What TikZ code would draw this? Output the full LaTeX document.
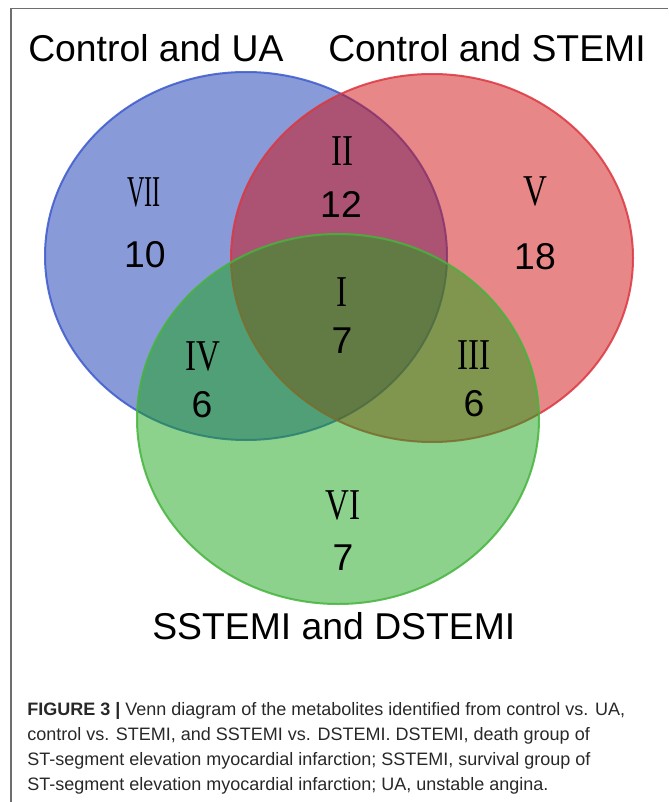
\documentclass[tikz,border=0pt]{standalone}
\usepackage{fontspec}
\setmainfont{Liberation Sans}
\newfontfamily\numeralfont{Liberation Serif}
\usetikzlibrary{positioning}

\definecolor{uablue}{RGB}{19,53,177}
\definecolor{uaedge}{RGB}{60,90,205}
\definecolor{stemired}{RGB}{209,15,15}
\definecolor{stemiedge}{RGB}{220,55,65}
\definecolor{dstemigreen}{RGB}{25,165,25}
\definecolor{dstemiedge}{RGB}{70,180,60}
\definecolor{framegray}{RGB}{110,110,110}
\definecolor{captiongray}{RGB}{40,40,40}

\newcommand{\rnum}[2][0.75]{\scalebox{#1}[1]{#2}}

\begin{document}
\begin{tikzpicture}[x=0.75pt,y=0.75pt,yscale=-1,xscale=1,
  set label/.style={font=\fontsize{28}{32}\selectfont, inner sep=0pt},
  count/.style={font=\fontsize{28}{32}\selectfont, inner sep=0pt},
  region/.style={font=\numeralfont\fontsize{33}{36}\selectfont, inner sep=0pt},
  venn/.style={line width=1.5pt, fill opacity=0.5, draw opacity=0.85}]
\useasboundingbox (0,0) rectangle (668,802);

%Frame lines
\draw [framegray, line width=1.1pt] (11,802) -- (11,8.5) -- (668,8.5);

%Shape: Ellipse (control and UA)
\draw [venn, draw=uaedge, fill=uablue] (246,256) ellipse (201 and 184);
%Shape: Ellipse (control and STEMI)
\draw [venn, draw=stemiedge, fill=stemired] (432,258) ellipse (201 and 184);
%Shape: Ellipse (SSTEMI and DSTEMI)
\draw [venn, draw=dstemiedge, fill=dstemigreen] (338,419) ellipse (201 and 185);

% Set labels
\node (ua) [set label, anchor=base west] at (28,62) {Control and UA};
\node (stemi) [set label, anchor=base west] at (328,62) {Control and STEMI};
\node (dstemi) [set label, anchor=base west] at (152,639) {SSTEMI and DSTEMI};

% Region labels
\node (r7) [region] at (144,192) {\rnum[0.55]{VII}};
\node (n7) [count] at (145,255) {10};
\node (r2) [region] at (342,151) {\rnum{II}};
\node (n2) [count] at (341,204) {12};
\node (r5) [region] at (535,191) {\rnum{V}};
\node (n5) [count] at (535,257) {18};
\node (r1) [region] at (342,292) {\rnum{I}};
\node (n1) [count] at (342,341) {7};
\node (r4) [region] at (203,356) {\rnum{IV}};
\node (n4) [count] at (202,405) {6};
\node (r3) [region] at (474,355) {\rnum{III}};
\node (n3) [count] at (474,404) {6};
\node (r6) [region] at (343,505) {\rnum{VI}};
\node (n6) [count] at (343,558) {7};

% Caption
\node (caption) [anchor=base west, inner sep=0pt, align=left, text=captiongray,
  font=\fontsize{13.5}{18.75}\selectfont] at (27,790)
  {\textbf{FIGURE 3 |} Venn diagram of the metabolites identified from control vs. UA,\\
   control vs. STEMI, and SSTEMI vs. DSTEMI. DSTEMI, death group of\\
   ST-segment elevation myocardial infarction; SSTEMI, survival group of\\
   ST-segment elevation myocardial infarction; UA, unstable angina.};
\end{tikzpicture}
\end{document}
